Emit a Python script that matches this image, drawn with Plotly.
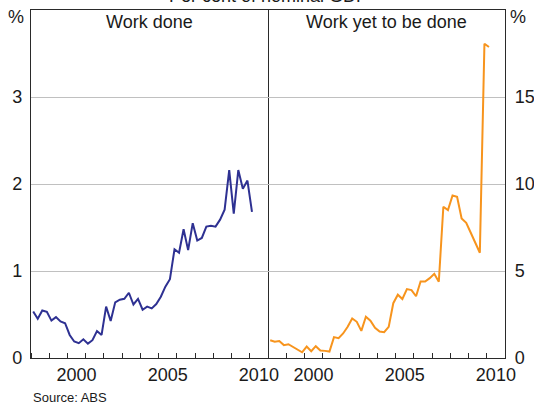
import pandas as pd
import plotly.graph_objects as go
from plotly.subplots import make_subplots

# Quarterly observations, March quarter 1998 to March quarter 2010
quarters = pd.period_range("1998Q1", "2010Q1", freq="Q")

work_done = [0.535, 0.45, 0.546, 0.53, 0.43, 0.47, 0.42, 0.40, 0.265, 0.19,
             0.17, 0.215, 0.165, 0.205, 0.31, 0.265, 0.59, 0.425, 0.64, 0.67,
             0.68, 0.75, 0.615, 0.68, 0.555, 0.59, 0.57, 0.62, 0.705, 0.82,
             0.905, 1.25, 1.21, 1.48, 1.24, 1.55, 1.35, 1.38, 1.51, 1.52,
             1.51, 1.59, 1.705, 2.16, 1.66, 2.16, 1.945, 2.04, 1.68]

work_yet = [1.02, 0.93, 0.97, 0.74, 0.79, 0.64, 0.45, 0.33, 0.66, 0.39,
            0.68, 0.43, 0.41, 0.37, 1.20, 1.14, 1.41, 1.79, 2.27, 2.08,
            1.56, 2.37, 2.14, 1.74, 1.52, 1.48, 1.79, 3.15, 3.64, 3.39,
            3.96, 3.90, 3.55, 4.40, 4.40, 4.59, 4.84, 4.38, 8.69, 8.50,
            9.34, 9.26, 8.02, 7.77, 7.20, 6.62, 6.05, 18.06, 17.87]

panel_titles = ["Work done", "Work yet to be done"]
year_labels = ["2000", "2005", "2010"]
left_ticks = [0, 1, 2, 3]
right_ticks = [0, 5, 10, 15]

# mid-quarter dates
dates = [(q.start_time + (q.end_time - q.start_time) / 2).strftime("%Y-%m-%d") for q in quarters]

FONT = "Liberation Sans, Arial, sans-serif"
FS = 18
TXT = "#1a1a1a"
AX = "#2a2a2a"
GRID = "#c0c0c0"
LW = 1.3

fig = make_subplots(rows=1, cols=2, horizontal_spacing=0)

fig.add_trace(go.Scatter(x=dates, y=work_done, mode="lines",
                         line=dict(color="#2e3192", width=2), showlegend=False),
              row=1, col=1)
fig.add_trace(go.Scatter(x=dates, y=work_yet, mode="lines",
                         line=dict(color="#f7941d", width=2), showlegend=False),
              row=1, col=2)

xcommon = dict(
    type="date",
    range=["1998-01-01", "2011-01-01"],
    tickmode="array",
    tickvals=[f"{y}-07-02" for y in year_labels],
    ticktext=year_labels,
    ticks="",
    showgrid=False,
    showline=True, linecolor=AX, linewidth=LW, mirror=True,
    tickfont=dict(family=FONT, size=FS, color=TXT),
    minor=dict(ticks="inside", ticklen=5, tickcolor=AX, tickwidth=1,
               dtick="M12", tick0="1998-01-01", showgrid=False),
    zeroline=False,
    automargin=False,
)
fig.update_xaxes(**xcommon)

fig.update_layout(
    yaxis=dict(range=[0, 4], tickmode="array", tickvals=left_ticks,
               ticks="", showgrid=True, gridcolor=GRID, gridwidth=1,
               showline=True, linecolor=AX, linewidth=LW, mirror=True,
               zeroline=False, ticklabelstandoff=4, automargin=False,
               tickfont=dict(family=FONT, size=FS, color=TXT)),
    yaxis2=dict(range=[0, 20], tickmode="array", tickvals=right_ticks,
                ticks="", showgrid=True, gridcolor=GRID, gridwidth=1,
                showline=True, linecolor=AX, linewidth=LW, mirror=False,
                side="right", zeroline=False, ticklabelstandoff=5,
                automargin=False,
                tickfont=dict(family=FONT, size=FS, color=TXT)),
)

ph = 348.5
pw = 474
def py(px):
    # convert pixel y (from top of figure) to paper coordinate
    return 1 - (px - 10) / ph

def pxx(px):
    return (px - 31) / pw

annotations = [
    dict(text=panel_titles[0], x=0.25, y=py(22), xref="paper", yref="paper",
         xanchor="center", yanchor="middle", showarrow=False,
         font=dict(family=FONT, size=FS, color=TXT)),
    dict(text=panel_titles[1], x=0.75, y=py(22), xref="paper", yref="paper",
         xanchor="center", yanchor="middle", showarrow=False,
         font=dict(family=FONT, size=FS, color=TXT)),
    dict(text="%", x=pxx(16), y=py(17), xref="paper", yref="paper",
         xanchor="center", yanchor="middle", showarrow=False,
         font=dict(family=FONT, size=FS, color=TXT)),
    dict(text="%", x=pxx(518), y=py(17), xref="paper", yref="paper",
         xanchor="center", yanchor="middle", showarrow=False,
         font=dict(family=FONT, size=FS, color=TXT)),
    dict(text="Per cent of nominal GDP", x=0.5, y=py(-4.5), xref="paper", yref="paper",
         xanchor="center", yanchor="middle", showarrow=False,
         font=dict(family=FONT, size=FS, color=TXT)),
    dict(text="Source: ABS", x=0, y=py(398), xref="paper", yref="paper",
         xanchor="left", yanchor="middle", showarrow=False,
         font=dict(family=FONT, size=13, color=TXT)),
]

fig.update_layout(
    width=534, height=406,
    margin=dict(l=31, r=29, t=10, b=47.5),
    paper_bgcolor="white", plot_bgcolor="white",
    annotations=annotations,
    showlegend=False,
)

fig.write_html("out.html", config={"displayModeBar": False},
               post_script="document.body.style.margin='0';")
